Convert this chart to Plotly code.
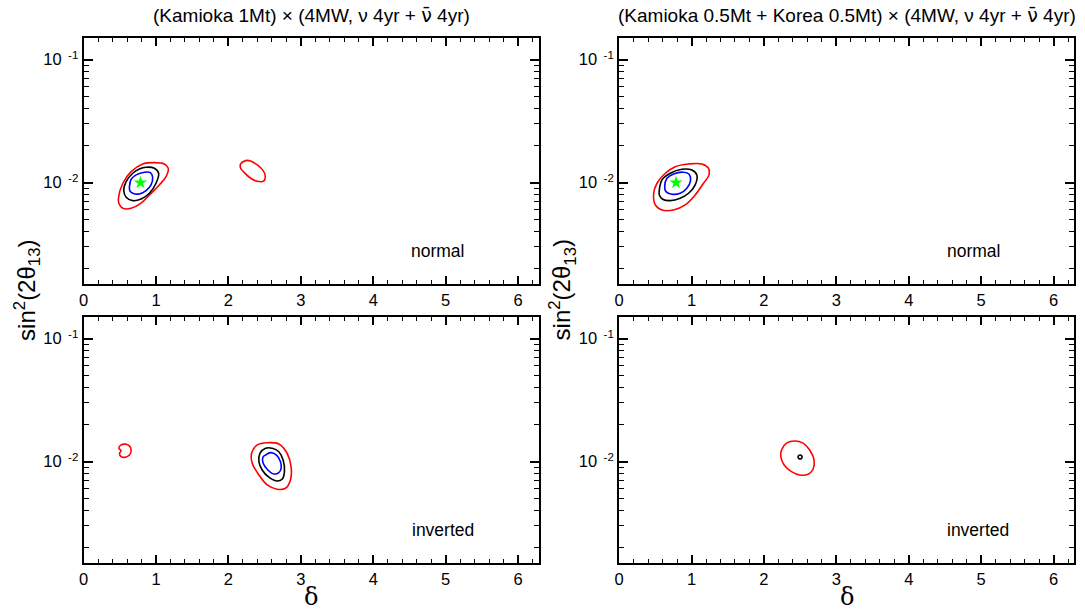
import plotly.graph_objects as go

# ---- allowed-region outlines: delta [rad] and sin^2(2 theta_13) ----
# top-left: Kamioka 1Mt, normal hierarchy
tl_red_d = [0.481, 0.541, 0.656, 0.816, 0.977, 1.114, 1.169, 1.138, 1.045, 0.908, 0.794, 0.656, 0.541, 0.486]
tl_red_s = [0.00747, 0.00989, 0.01228, 0.01419, 0.01455, 0.01419, 0.01309, 0.01119, 0.00958, 0.00794, 0.00681, 0.00619, 0.00619, 0.00681]
tl_blk_d = [0.554, 0.587, 0.678, 0.770, 0.862, 0.977, 1.036, 1.000, 0.908, 0.794, 0.678, 0.587]
tl_blk_s = [0.00873, 0.01019, 0.01192, 0.01291, 0.01334, 0.01309, 0.01192, 0.00989, 0.00820, 0.00736, 0.00714, 0.00761]
tl_blu_d = [0.633, 0.656, 0.725, 0.839, 0.922, 0.953, 0.931, 0.862, 0.770, 0.678, 0.637]
tl_blu_s = [0.00928, 0.01066, 0.01156, 0.01216, 0.01205, 0.01107, 0.00958, 0.00861, 0.00809, 0.00820, 0.00861]
tl_isl_d = [2.169, 2.238, 2.307, 2.398, 2.480, 2.508, 2.490, 2.398, 2.307, 2.215, 2.169]
tl_isl_s = [0.01419, 0.01510, 0.01500, 0.01393, 0.01253, 0.01132, 0.01032, 0.01026, 0.01086, 0.01216, 0.01309]

# bottom-left: Kamioka 1Mt, inverted hierarchy
bl_isl_d = [0.518, 0.587, 0.642, 0.656, 0.633, 0.578, 0.518, 0.495, 0.518, 0.486]
bl_isl_s = [0.01368, 0.01384, 0.01324, 0.01228, 0.01132, 0.01086, 0.01099, 0.01170, 0.01228, 0.01285]
bl_red_d = [2.398, 2.535, 2.696, 2.810, 2.865, 2.857, 2.788, 2.673, 2.535, 2.421, 2.329, 2.320]
bl_red_s = [0.01368, 0.01426, 0.01393, 0.01170, 0.00910, 0.00710, 0.00608, 0.00597, 0.00647, 0.00780, 0.00970, 0.01170]
bl_blk_d = [2.513, 2.604, 2.696, 2.755, 2.774, 2.741, 2.664, 2.558, 2.466, 2.421, 2.435]
bl_blk_s = [0.01285, 0.01285, 0.01205, 0.01032, 0.00830, 0.00719, 0.00697, 0.00747, 0.00855, 0.01000, 0.01170]
bl_blu_d = [2.513, 2.582, 2.664, 2.719, 2.728, 2.696, 2.627, 2.545, 2.480, 2.476]
bl_blu_s = [0.01132, 0.01183, 0.01132, 0.01000, 0.00883, 0.00815, 0.00794, 0.00855, 0.00970, 0.01086]

# top-right: Kamioka 0.5Mt + Korea 0.5Mt, normal hierarchy
tr_red_d = [0.477, 0.523, 0.637, 0.774, 0.959, 1.142, 1.234, 1.242, 1.165, 1.050, 0.912, 0.752, 0.591, 0.499]
tr_red_s = [0.00820, 0.00989, 0.01192, 0.01349, 0.01419, 0.01419, 0.01309, 0.01156, 0.00989, 0.00794, 0.00659, 0.00600, 0.00600, 0.00659]
tr_blk_d = [0.555, 0.591, 0.706, 0.866, 1.004, 1.073, 1.050, 0.959, 0.843, 0.706, 0.601, 0.555]
tr_blk_s = [0.00873, 0.01052, 0.01192, 0.01285, 0.01268, 0.01156, 0.00958, 0.00820, 0.00747, 0.00714, 0.00733, 0.00794]
tr_blu_d = [0.629, 0.660, 0.752, 0.890, 0.967, 0.986, 0.935, 0.843, 0.729, 0.646]
tr_blu_s = [0.00928, 0.01086, 0.01178, 0.01216, 0.01170, 0.01038, 0.00900, 0.00820, 0.00805, 0.00845]

# bottom-right: Kamioka 0.5Mt + Korea 0.5Mt, inverted hierarchy
br_red_d = [2.233, 2.242, 2.311, 2.426, 2.540, 2.632, 2.692, 2.678, 2.609, 2.494, 2.380, 2.279]
br_red_s = [0.01099, 0.01245, 0.01413, 0.01473, 0.01413, 0.01245, 0.01032, 0.00867, 0.00790, 0.00780, 0.00830, 0.00940]
br_blk_d = [2.527, 2.519, 2.499, 2.479, 2.471, 2.479, 2.499, 2.519]
br_blk_s = [0.01092, 0.01119, 0.01132, 0.01119, 0.01092, 0.01064, 0.01052, 0.01064]

# input (true) point
true_d = [0.785]
true_s = [0.01]

# tick labels
x_ticks = [0, 1, 2, 3, 4, 5, 6]
y_ticks = [0.01, 0.1]
y_ticktext = ["10<sup>  -2</sup>", "10<sup>  -1</sup>"]
y_minor = [0.002, 0.003, 0.004, 0.005, 0.006, 0.007, 0.008, 0.009,
           0.02, 0.03, 0.04, 0.05, 0.06, 0.07, 0.08, 0.09]

NUBAR = "<span style='font-family:DejaVu Sans'>\u03bd\u0304</span>"
titles = ["(Kamioka 1Mt) \u00d7 (4MW, \u03bd 4yr + " + NUBAR + " 4yr)",
          "(Kamioka 0.5Mt + Korea 0.5Mt) \u00d7 (4MW, \u03bd 4yr + " + NUBAR + " 4yr)"]

RED, BLK, BLU, GRN = "#ff0000", "#000000", "#0000ff", "#00ff00"
FONT = "Liberation Sans, Arial, sans-serif"
W, H = 1085, 610

fig = go.Figure()


def outline(xs, ys, color, ax):
    xa, ya = ax
    fig.add_trace(go.Scatter(
        x=xs + xs[:1], y=ys + ys[:1], mode="lines",
        line=dict(color=color, width=1.6, shape="spline", smoothing=1.0),
        xaxis=xa, yaxis=ya, showlegend=False, hoverinfo="skip"))


TL, TR, BL, BR = ("x", "y"), ("x2", "y2"), ("x3", "y3"), ("x4", "y4")

outline(tl_red_d, tl_red_s, RED, TL)
outline(tl_blk_d, tl_blk_s, BLK, TL)
outline(tl_blu_d, tl_blu_s, BLU, TL)
outline(tl_isl_d, tl_isl_s, RED, TL)

outline(bl_isl_d, bl_isl_s, RED, BL)
outline(bl_red_d, bl_red_s, RED, BL)
outline(bl_blk_d, bl_blk_s, BLK, BL)
outline(bl_blu_d, bl_blu_s, BLU, BL)

outline(tr_red_d, tr_red_s, RED, TR)
outline(tr_blk_d, tr_blk_s, BLK, TR)
outline(tr_blu_d, tr_blu_s, BLU, TR)

outline(br_red_d, br_red_s, RED, BR)
outline(br_blk_d, br_blk_s, BLK, BR)

for xa, ya in (TL, TR):
    fig.add_trace(go.Scatter(
        x=true_d, y=true_s, mode="markers",
        marker=dict(symbol="star", size=10, color=GRN, line=dict(width=0)),
        xaxis=xa, yaxis=ya, showlegend=False, hoverinfo="skip"))

# panel frames in pixels: (left, right) and (top, bottom)
cols = [(79, 536), (617, 1074)]
rows = [(38, 284), (317, 563)]


def xdom(c):
    return [cols[c][0] / W, cols[c][1] / W]


def ydom(r):
    return [1 - rows[r][1] / H, 1 - rows[r][0] / H]


xbase = dict(range=[0, 6.2832], tickmode="array", tickvals=x_ticks,
             ticks="inside", ticklen=8, tickwidth=1.5, tickcolor="black",
             minor=dict(ticks="inside", dtick=0.2, ticklen=4, tickwidth=1.2, tickcolor="black"),
             showline=True, linewidth=2, linecolor="black", mirror="ticks",
             showgrid=False, zeroline=False,
             tickfont=dict(family=FONT, size=16.5, color="black"))
ybase = dict(type="log", range=[-2.824, -0.824], tickmode="array",
             tickvals=y_ticks, ticktext=y_ticktext,
             ticks="inside", ticklen=9, tickwidth=1.5, tickcolor="black",
             minor=dict(ticks="inside", tickvals=y_minor, ticklen=5, tickwidth=1.2, tickcolor="black"),
             showline=True, linewidth=2, linecolor="black", mirror="ticks",
             showgrid=False, zeroline=False,
             tickfont=dict(family=FONT, size=16.5, color="black"))

axes = {}
panel = {"": (0, 0), "2": (1, 0), "3": (0, 1), "4": (1, 1)}
for k, (c, r) in panel.items():
    axes["xaxis" + k] = dict(xbase, domain=xdom(c), anchor="y" + k)
    axes["yaxis" + k] = dict(ybase, domain=ydom(r), anchor="x" + k)

annotations = []
for c in range(2):
    cx = (cols[c][0] + cols[c][1]) / 2 / W
    annotations.append(dict(text=titles[c], x=cx, y=1 - 15 / H, xref="paper", yref="paper",
                            showarrow=False, xanchor="center", yanchor="middle",
                            font=dict(family=FONT, size=19, color="black")))
    annotations.append(dict(text="\u03b4", x=cx, y=1 - 597 / H, xref="paper", yref="paper",
                            showarrow=False, xanchor="center", yanchor="middle",
                            font=dict(family="DejaVu Serif, serif", size=24, color="black")))
    annotations.append(dict(text="sin<sup>2</sup>(2\u03b8<sub>13</sub>)",
                            x=(cols[c][0] - 57) / W, y=1 - 290 / H, xref="paper", yref="paper",
                            showarrow=False, textangle=-90, xanchor="center", yanchor="middle",
                            font=dict(family=FONT, size=24, color="black")))
    annotations.append(dict(text="normal", x=(cols[c][1] - 101) / W, y=1 - 251 / H,
                            xref="paper", yref="paper", showarrow=False,
                            xanchor="center", yanchor="middle",
                            font=dict(family=FONT, size=17.5, color="black")))
    annotations.append(dict(text="inverted", x=(cols[c][1] - 96) / W, y=1 - 530 / H,
                            xref="paper", yref="paper", showarrow=False,
                            xanchor="center", yanchor="middle",
                            font=dict(family=FONT, size=17.5, color="black")))

fig.update_layout(width=W, height=H, margin=dict(l=0, r=0, t=0, b=0),
                  paper_bgcolor="white", plot_bgcolor="white",
                  annotations=annotations, **axes)

fig.write_html("out.html", config={"displayModeBar": False})
